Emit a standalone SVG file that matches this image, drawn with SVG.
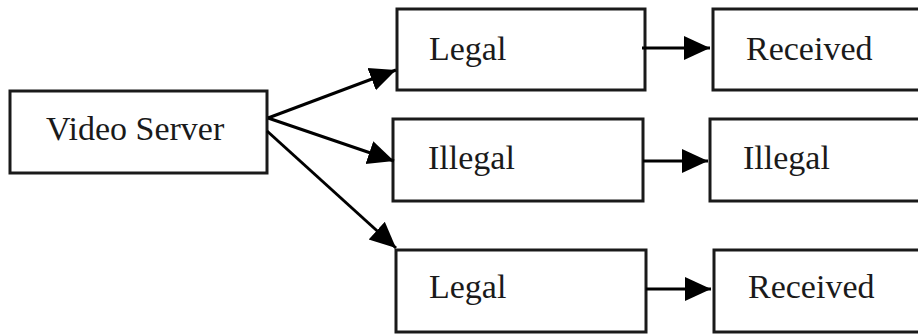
<svg xmlns="http://www.w3.org/2000/svg" width="918" height="334" viewBox="0 0 918 334">
<style>
.box{fill:#fff;stroke:#1a1a1a;stroke-width:3}
.lbl{font-family:"Liberation Serif","Times New Roman",serif;font-size:34px;fill:#1a1a1a}
.conn{stroke:#000;stroke-width:3;fill:none}
</style>
<defs>
<marker id="ah" markerUnits="userSpaceOnUse" markerWidth="28" markerHeight="26" refX="26" refY="13" orient="auto" viewBox="0 0 28 26">
<path d="M0,1 L26,13 L0,25 z" fill="#000"/>
</marker>
</defs>
<rect width="918" height="334" fill="#fff"/>
<g id="video-server">
<rect class="box" x="10" y="91" width="257" height="82"/>
<text class="lbl" x="46" y="140">Video Server</text>
</g>
<g id="legal-1">
<rect class="box" x="397" y="9" width="248" height="81"/>
<text class="lbl" x="429" y="60">Legal</text>
</g>
<g id="received-1">
<rect class="box" x="713" y="9" width="220" height="81"/>
<text class="lbl" x="746" y="60">Received</text>
</g>
<g id="illegal-1">
<rect class="box" x="393" y="119" width="250" height="82"/>
<text class="lbl" x="428" y="169">Illegal</text>
</g>
<g id="illegal-2">
<rect class="box" x="710" y="119" width="223" height="82"/>
<text class="lbl" x="743" y="169">Illegal</text>
</g>
<g id="legal-2">
<rect class="box" x="396" y="250" width="250" height="82"/>
<text class="lbl" x="429" y="298">Legal</text>
</g>
<g id="received-2">
<rect class="box" x="714" y="250" width="219" height="82"/>
<text class="lbl" x="748" y="298">Received</text>
</g>
<g id="connectors">
<line class="conn" x1="268" y1="118" x2="396" y2="70" marker-end="url(#ah)"/>
<line class="conn" x1="268" y1="118" x2="394" y2="161" marker-end="url(#ah)"/>
<line class="conn" x1="267" y1="131" x2="396" y2="248" marker-end="url(#ah)"/>
<line class="conn" x1="642" y1="48" x2="710" y2="48" marker-end="url(#ah)"/>
<line class="conn" x1="643" y1="161" x2="708" y2="161" marker-end="url(#ah)"/>
<line class="conn" x1="646" y1="289" x2="711" y2="289" marker-end="url(#ah)"/>
</g>
</svg>
